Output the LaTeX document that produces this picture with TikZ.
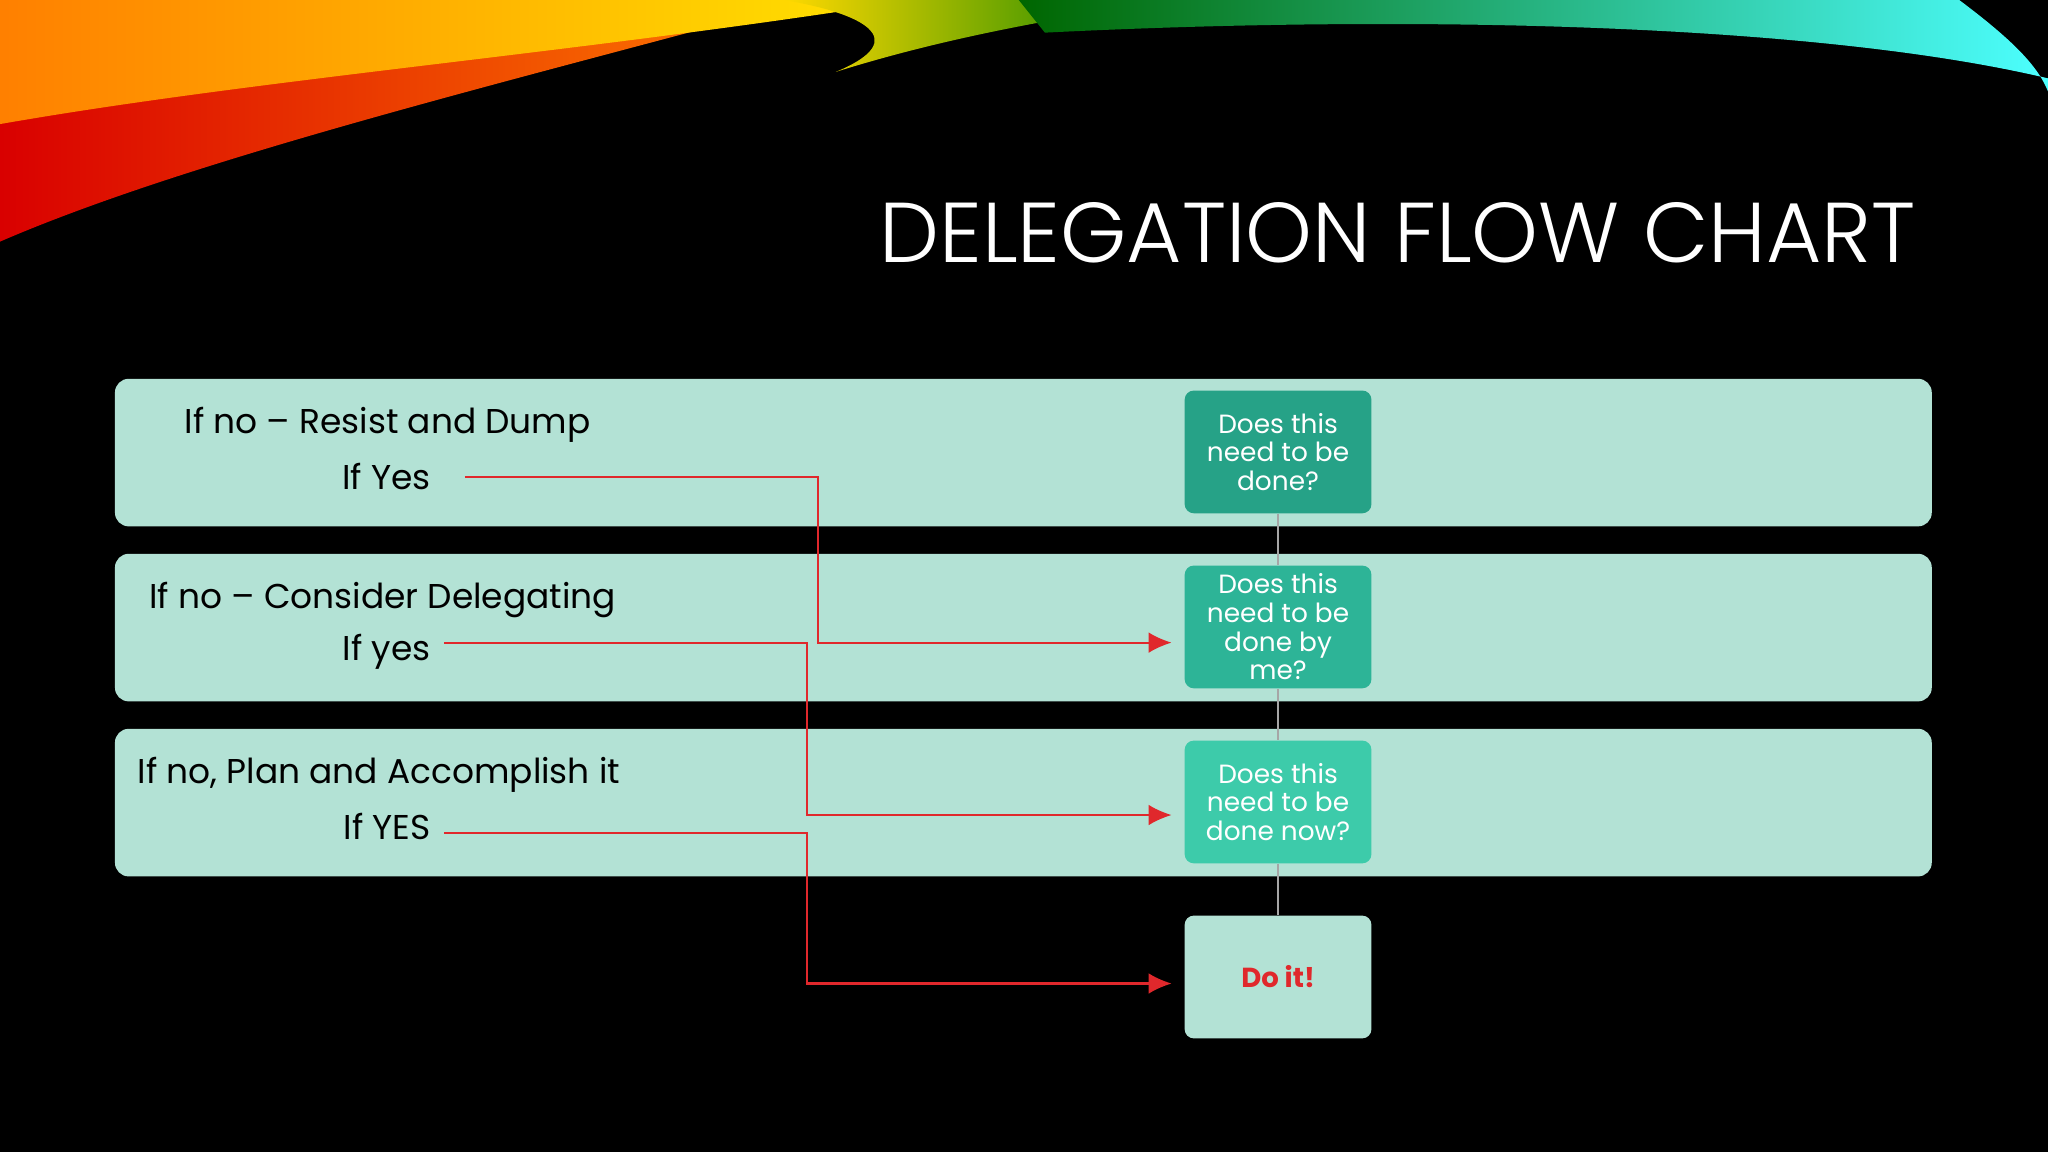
\documentclass[tikz,border=0pt]{standalone}
\usepackage{fontspec}
\setmainfont{Poppins}
\newfontfamily\tf{Poppins Light}
\begin{document}
\begin{tikzpicture}[x=0.02cm,y=-0.02cm,
  band/.style={fill=band,rounded corners=6pt,draw=none},
  qbox/.style={minimum width=143*0.02cm,minimum height=94*0.02cm,rounded corners=4pt,align=center,text=white,font=\fontsize{11.5}{12.5}\selectfont,inner sep=1pt},
  lbl/.style={font=\fontsize{15}{18}\selectfont,text=black,inner sep=0pt},
  red/.style={draw=redl,line width=0.9pt},
  arr/.style={red,-{Latex[length=10pt,width=9pt]}}]
\usetikzlibrary{arrows.meta}
\definecolor{band}{HTML}{B3E2D5}
\definecolor{redl}{HTML}{E0282C}
\definecolor{c1}{HTML}{26A287}
\definecolor{c2}{HTML}{2DB497}
\definecolor{c3}{HTML}{3DCBAA}
\fill[black] (0,0) rectangle (1568,882);
\useasboundingbox (0,0) rectangle (1568,882);
% swoosh
\shade[left color=red!85!black,right color=orange] (0,0) -- (620,0) .. controls (400,60) and (150,120) .. (0,185) -- cycle;
\shade[left color=orange,right color=yellow!80!orange] (0,0) -- (700,0) .. controls (450,40) and (200,60) .. (0,95) -- cycle;
\shade[left color=yellow!70!orange,right color=green!50!black] (600,0) -- (900,0) .. controls (800,15) and (720,30) .. (640,55) .. controls (700,30) and (660,10) .. (600,0) -- cycle;
\shade[left color=green!40!black,right color=cyan!70] (780,0) -- (1500,0) .. controls (1540,30) and (1560,50) .. (1568,70) -- (1568,60) .. controls (1400,20) and (1100,10) .. (800,25) -- cycle;
\node[anchor=east,text=white,font=\tf\fontsize{37}{40}\selectfont,inner sep=0pt] (title) at (1467,178) {DELEGATION FLOW CHART};
% bands
\fill[band] (88,290) rectangle (1479,403);
\fill[band] (88,424) rectangle (1479,537);
\fill[band] (88,558) rectangle (1479,671);
% boxes
\node[qbox,fill=c1] (q1) at (978.5,346) {Does this\\need to be\\done?};
\node[qbox,fill=c2] (q2) at (978.5,480) {Does this\\need to be\\done by\\me?};
\node[qbox,fill=c3] (q3) at (978.5,614) {Does this\\need to be\\done now?};
\node[qbox,fill=band,text=redl,font=\bfseries\fontsize{12}{14}\selectfont] (q4) at (978.5,748) {Do it!};
\draw[gray!70,line width=0.8pt] (q1) -- (q2) (q2) -- (q3) (q3) -- (q4);
% labels
\node[lbl,anchor=west] (a1) at (141,325) {If no – Resist and Dump};
\node[lbl,anchor=east] (b1) at (330,365) {If Yes};
\node[lbl,anchor=west] (a2) at (114,459) {If no – Consider Delegating};
\node[lbl,anchor=east] (b2) at (330,499) {If yes};
\node[lbl,anchor=west] (a3) at (105,593) {If no, Plan and Accomplish it};
\node[lbl,anchor=east] (b3) at (330,633) {If YES};
\coordinate (s1) at (356,365); \coordinate (s2) at (340,492); \coordinate (s3) at (340,638);
\coordinate (e1) at (897,492); \coordinate (e2) at (897,624); \coordinate (e3) at (897,753);
\draw[arr] (s1) -- (626,365) -- (626,492) -- (e1);
\draw[arr] (s2) -- (618,492) -- (618,624) -- (e2);
\draw[arr] (s3) -- (618,638) -- (618,753) -- (e3);
\end{tikzpicture}
\end{document}
